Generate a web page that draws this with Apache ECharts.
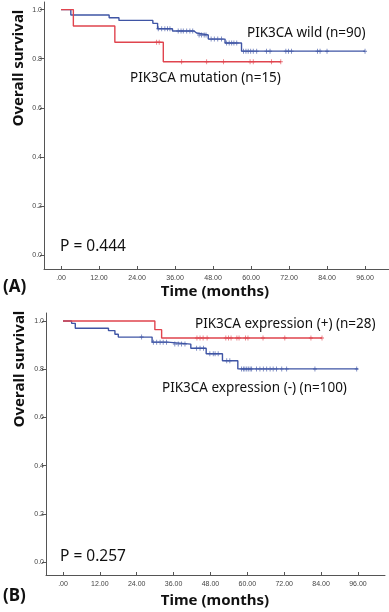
<!DOCTYPE html>
<html><head><meta charset="utf-8">
<script src="https://cdn.jsdelivr.net/npm/echarts@6/dist/echarts.min.js"></script>
<style>html,body{margin:0;padding:0;background:#fff}#c{width:389px;height:612px}</style>
</head><body><div id="c"></div>
<script>
// ---- Data (A) ----
const wildTimes = [0, 3.1, 15.2, 18.3, 29.0, 30.5, 35.2, 42.0, 42.8, 46.5, 51.8, 57.0, 96.0];
const wildSurv  = [1.0, 0.978, 0.967, 0.956, 0.944, 0.922, 0.913, 0.905, 0.897, 0.880, 0.864, 0.831, 0.831];
const wildCensor = [30.7,31.8,32.8,33.6,34.4,37.0,37.9,38.6,39.7,40.7,41.6,43.6,44.4,45.2,45.8,47.4,48.4,49.5,50.7,52.3,53.1,53.9,54.6,55.5,57.6,58.4,59.1,59.9,60.7,61.8,64.9,66.0,71.0,71.8,72.8,81.0,81.8,84.0,96.0];
const mutTimes = [0, 3.9, 17.0, 32.3, 69.4];
const mutSurv  = [1.0, 0.933, 0.867, 0.788, 0.788];
const mutCensor = [30.2, 31.0, 38.1, 46.0, 51.3, 59.7, 60.7, 66.5, 69.4];
// ---- Data (B) ----
const posTimes = [0, 29.9, 32.1, 84.3];
const posSurv  = [1.0, 0.964, 0.929, 0.929];
const posCensor = [43.6,44.6,45.6,46.9,53.0,53.9,54.7,56.6,57.3,59.4,60.2,65.1,72.2,80.7,84.3];
const negTimes = [0, 2.8, 4.0, 14.8, 16.9, 18.0, 29.0, 34.0, 41.6, 46.6, 51.9, 56.9, 96.0];
const negSurv  = [1.0, 0.99, 0.97, 0.96, 0.945, 0.933, 0.912, 0.904, 0.887, 0.864, 0.835, 0.801, 0.801];
const negCensor = [25.6,29.4,30.5,31.6,32.6,33.7,36.4,37.5,38.6,39.7,43.5,44.6,45.7,47.8,48.9,49.5,50.5,53.3,54.3,58.1,58.7,59.2,59.8,60.3,60.9,61.4,63.0,64.1,65.2,66.3,67.4,68.4,69.5,71.2,72.8,82.0,95.6];
// ---- Ticks ----
const xTickValues = [0, 12, 24, 36, 48, 60, 72, 84, 96];
const xTickLabels = ['.00','12.00','24.00','36.00','48.00','60.00','72.00','84.00','96.00'];
const yTickValues = [0, 0.2, 0.4, 0.6, 0.8, 1.0];
const yTickLabels = ['0.0','0.2','0.4','0.6','0.8','1.0'];
// ---- Text ----
const labelsA = ['PIK3CA wild (n=90)', 'PIK3CA mutation (n=15)', 'P = 0.444', '(A)'];
const labelsB = ['PIK3CA expression (+) (n=28)', 'PIK3CA expression (-) (n=100)', 'P = 0.257', '(B)'];
const xTitle = 'Time (months)';
const yTitle = 'Overall survival';

const BLUE = '#3f55a5', RED = '#e0444e';
const pts = (t, s) => t.map((v, i) => [v, s[i]]);
function survAt(times, surv, t) {
  let s = surv[0];
  for (let i = 0; i < times.length; i++) { if (times[i] <= t) s = surv[i]; }
  return s;
}
const cens = (c, t, s) => c.map(v => [v, survAt(t, s, v)]);
const PLUS = 'path://M2,0H3V5H2ZM0,2H5V3H0Z';

function xAxis(gi, min, max) {
  return {
    type: 'value', gridIndex: gi, min: min, max: max,
    splitLine: { show: false },
    axisLine: { onZero: false, lineStyle: { color: '#555', width: 1 } },
    axisTick: { inside: true, length: 3, customValues: xTickValues, lineStyle: { color: '#555' } },
    axisLabel: { customValues: xTickValues, fontSize: 7, color: '#444', margin: 6, fontFamily: 'Liberation Sans Narrow, Arial Narrow, Liberation Sans',
      formatter: v => { const i = xTickValues.indexOf(v); return i >= 0 ? xTickLabels[i] : ''; } }
  };
}
function yAxis(gi, min, max) {
  return {
    type: 'value', gridIndex: gi, min: min, max: max,
    splitLine: { show: false },
    axisLine: { show: true, onZero: false, lineStyle: { color: '#555', width: 1 } },
    axisTick: { show: true, inside: false, length: 4, customValues: yTickValues, lineStyle: { color: '#555' } },
    axisLabel: { customValues: yTickValues, fontSize: 7, color: '#444', margin: 2, fontFamily: 'Liberation Sans Narrow, Arial Narrow, Liberation Sans',
      formatter: v => { let best = 0; yTickValues.forEach((t, i) => { if (Math.abs(t - v) < Math.abs(yTickValues[best] - v)) best = i; }); return yTickLabels[best]; } }
  };
}
function line(xi, data, color) {
  return { type: 'line', xAxisIndex: xi, yAxisIndex: xi, step: 'end', data: data, showSymbol: false, symbol: 'none',
    lineStyle: { color: color, width: 1.4 }, z: 3 };
}
function scat(xi, data, color) {
  return { type: 'scatter', xAxisIndex: xi, yAxisIndex: xi, data: data, symbol: PLUS, symbolSize: [4, 5],
    itemStyle: { color: color }, z: 4 };
}
const txt = (x, y, text, size, weight) => ({
  type: 'text', x: x, y: y,
  style: { text: text, fontSize: size, fontWeight: weight || 'normal', fill: '#111', fontFamily: 'Noto Sans, sans-serif', textVerticalAlign: 'middle' }
});
const ctxt = (x, y, text, rot) => ({
  type: 'text', x: x, y: y, rotation: rot || 0,
  style: { text: text, fontSize: 15, fontWeight: 'bold', fill: '#111', fontFamily: 'Noto Sans, sans-serif', textAlign: 'center', textVerticalAlign: 'middle' }
});

const chart = echarts.init(document.getElementById('c'), null, { renderer: 'canvas' });
chart.setOption({
  animation: false,
  backgroundColor: '#fff',
  grid: [
    { left: 44, top: 2, width: 345, height: 267 },
    { left: 46, top: 313, width: 339, height: 262 }
  ],
  xAxis: [ xAxis(0, -5.37, 103.57), xAxis(1, -5.53, 104.8) ],
  yAxis: [ yAxis(0, -0.056, 1.031), yAxis(1, -0.054, 1.033) ],
  series: [
    line(0, pts(wildTimes, wildSurv), BLUE),
    line(0, pts(mutTimes, mutSurv), RED),
    scat(0, cens(wildCensor, wildTimes, wildSurv), BLUE),
    scat(0, cens(mutCensor, mutTimes, mutSurv), RED),
    line(1, pts(negTimes, negSurv), BLUE),
    line(1, pts(posTimes, posSurv), RED),
    scat(1, cens(negCensor, negTimes, negSurv), BLUE),
    scat(1, cens(posCensor, posTimes, posSurv), RED)
  ],
  graphic: [
    txt(247, 33, labelsA[0], 13.5),
    txt(130, 78, labelsA[1], 13.5),
    txt(60, 247, labelsA[2], 15.5),
    txt(3, 287, labelsA[3], 17, 'bold'),
    ctxt(215, 292, xTitle),
    ctxt(19, 68, yTitle, Math.PI / 2),
    txt(195, 324, labelsB[0], 13.5),
    txt(162, 388, labelsB[1], 13.5),
    txt(60, 557, labelsB[2], 15.5),
    txt(3, 596, labelsB[3], 17, 'bold'),
    ctxt(215, 601, xTitle),
    ctxt(20, 369, yTitle, Math.PI / 2)
  ]
});
</script></body></html>
